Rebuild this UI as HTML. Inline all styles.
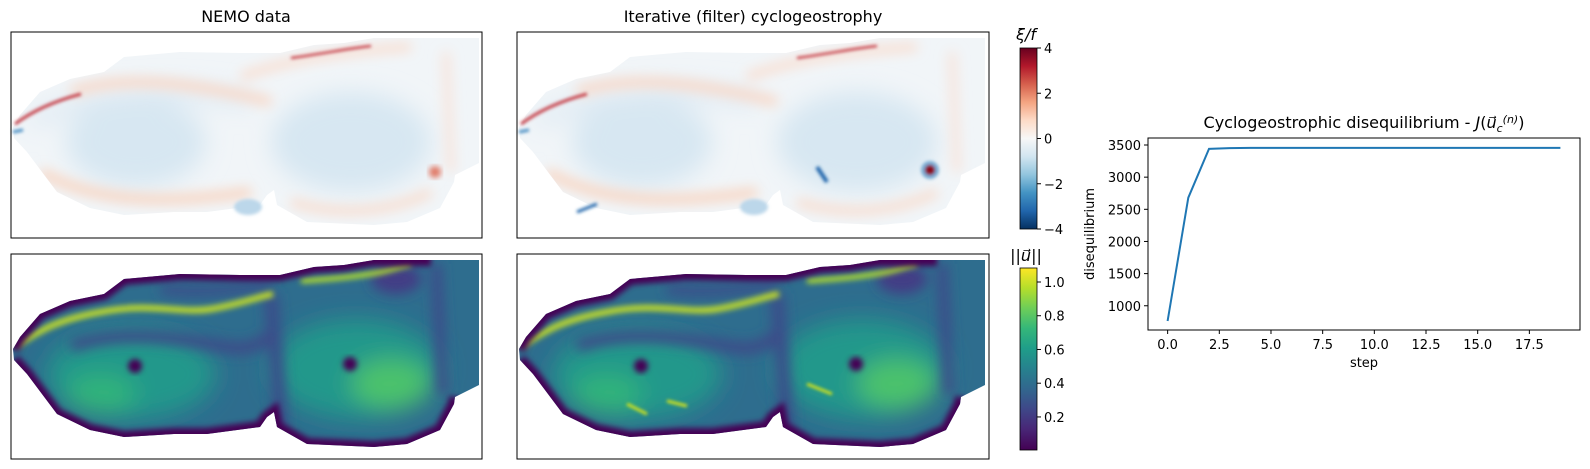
<!DOCTYPE html>
<html><head><meta charset="utf-8"><style>
html,body{margin:0;padding:0;background:#fff;}
svg{display:block;font-family:"DejaVu Sans","Liberation Sans",sans-serif;}
</style></head><body>
<svg id="fig" width="1590" height="469" viewBox="0 0 1590 469" xmlns="http://www.w3.org/2000/svg">
<defs>
<filter id="b3" x="-20%" y="-20%" width="140%" height="140%"><feGaussianBlur stdDeviation="3"/></filter>
<filter id="b6" x="-30%" y="-30%" width="160%" height="160%"><feGaussianBlur stdDeviation="6"/></filter>
<filter id="b12" x="-50%" y="-50%" width="200%" height="200%"><feGaussianBlur stdDeviation="12"/></filter>
<filter id="b2" x="-20%" y="-20%" width="140%" height="140%"><feGaussianBlur stdDeviation="1.5"/></filter>
<clipPath id="dom"><path d="M2,95 L9,83 L29,60 L59,47 L93,40 L113,25 L169,20 L229,21 L269,21 L303,13 L333,11 L363,6 L468,6 L468,131 L444,143 L443,150 L429,176 L396,190 L363,193 L296,190 L266,173 L263,158 L256,163 L249,173 L196,180 L163,180 L113,183 L79,176 L46,160 L16,120 L3,106 Z"/></clipPath>
<linearGradient id="rdbu" x1="0" y1="0" x2="0" y2="1">
<stop offset="0" stop-color="#67001f"/><stop offset="0.1" stop-color="#b2182b"/><stop offset="0.2" stop-color="#d6604d"/><stop offset="0.3" stop-color="#f4a582"/><stop offset="0.4" stop-color="#fddbc7"/><stop offset="0.5" stop-color="#f7f7f7"/><stop offset="0.6" stop-color="#d1e5f0"/><stop offset="0.7" stop-color="#92c5de"/><stop offset="0.8" stop-color="#4393c3"/><stop offset="0.9" stop-color="#2166ac"/><stop offset="1" stop-color="#053061"/>
</linearGradient>
<linearGradient id="vir" x1="0" y1="0" x2="0" y2="1">
<stop offset="0" stop-color="#fde725"/><stop offset="0.11" stop-color="#b5de2b"/><stop offset="0.22" stop-color="#6ece58"/><stop offset="0.33" stop-color="#35b779"/><stop offset="0.44" stop-color="#1f9e89"/><stop offset="0.55" stop-color="#26828e"/><stop offset="0.66" stop-color="#31688e"/><stop offset="0.77" stop-color="#3e4989"/><stop offset="0.88" stop-color="#482878"/><stop offset="1" stop-color="#440154"/>
</linearGradient>
<g id="vortField">
<g clip-path="url(#dom)">
<rect x="0" y="0" width="472" height="206" fill="#f1f5f8"/>
<g filter="url(#b12)">
<ellipse cx="125" cy="110" rx="70" ry="45" fill="#d7e7f2"/>
<ellipse cx="340" cy="110" rx="80" ry="50" fill="#d7e7f2"/>
<path d="M20,90 C80,60 160,55 240,70" stroke="#dde9f3" stroke-width="14" fill="none"/>
</g>
<g filter="url(#b6)">
<path d="M60,60 C120,40 200,55 260,70" stroke="#f8d8c8" stroke-width="10" fill="none"/>
<path d="M30,140 C90,175 170,170 240,160" stroke="#f8d5c2" stroke-width="10" fill="none"/>
<path d="M280,170 C330,185 380,180 420,160" stroke="#f8dacb" stroke-width="8" fill="none"/>
<path d="M230,45 C270,30 320,20 400,15" stroke="#f9dccd" stroke-width="8" fill="none"/>
<path d="M435,20 L440,140" stroke="#f7e3da" stroke-width="8" fill="none"/>
</g>
</g>
<g filter="url(#b2)">
<path d="M4,92 C20,80 40,70 70,62" stroke="#c6414a" stroke-width="3" fill="none"/>
<path d="M280,26 C310,22 340,16 360,14" stroke="#c6414a" stroke-width="2.5" fill="none"/>
<ellipse cx="237" cy="175" rx="14" ry="8" fill="#bcd7ea"/>
<path d="M2,100 L12,98" stroke="#4a8fc4" stroke-width="3"/>
</g>
</g>
<g id="speedField">
<g clip-path="url(#dom)">
<rect x="0" y="0" width="472" height="206" fill="#2e6d8e"/>
<g filter="url(#b12)">
<ellipse cx="120" cy="120" rx="85" ry="45" fill="#23988b"/>
<ellipse cx="345" cy="115" rx="85" ry="50" fill="#23988b"/>
<ellipse cx="380" cy="130" rx="40" ry="25" fill="#4cc26c"/>
<ellipse cx="90" cy="140" rx="35" ry="20" fill="#33b47a"/>
</g>
<g filter="url(#b6)">
<path d="M60,92 C100,78 150,80 210,92 C240,98 250,90 262,78" stroke="#3e4b89" stroke-width="12" fill="none"/>
<path d="M260,40 L270,175" stroke="#3b4e8a" stroke-width="14" fill="none"/>
<path d="M425,10 L432,140" stroke="#3e4989" stroke-width="10" fill="none"/>
<path d="M150,35 C190,40 230,35 260,30" stroke="#3b4e8a" stroke-width="10" fill="none"/>
<ellipse cx="385" cy="25" rx="25" ry="15" fill="#433e85"/>
</g>
<g filter="url(#b3)">
<path d="M5,92 C30,75 50,65 90,58 C140,48 170,60 200,55 C230,50 250,42 262,40" stroke="#c6df27" stroke-width="6" fill="none"/>
<path d="M290,27 C320,25 350,22 370,18 C380,16 390,12 400,10" stroke="#b5de2b" stroke-width="5" fill="none"/>
</g>
<g fill="none" stroke="#440154" stroke-width="12" filter="url(#b3)">
<path d="M2,95 L9,83 L29,60 L59,47 L93,40 L113,25 L169,20 L229,21 L269,21 L303,13 L333,11 L363,6 L420,6 M444,143 L443,150 L429,176 L396,190 L363,193 L296,190 L266,173 L263,158 L256,163 L249,173 L196,180 L163,180 L113,183 L79,176 L46,160 L16,120 L3,106"/>
</g>
<g filter="url(#b3)">
<circle cx="124" cy="112" r="7" fill="#440154"/>
<circle cx="339" cy="110" r="7" fill="#440154"/>
</g>
</g>
</g>
</defs>

<text x="246" y="22" font-size="16" text-anchor="middle" fill="#000">NEMO data</text>
<g transform="translate(11,32)">
<use href="#vortField"/>
<g filter="url(#b3)"><circle cx="424" cy="140" r="6" fill="#e07a68"/></g>
<rect x="0" y="0" width="471" height="206" fill="none" stroke="#000" stroke-width="1"/>
</g>
<text x="753" y="22" font-size="16" text-anchor="middle" fill="#000">Iterative (filter) cyclogeostrophy</text>
<g transform="translate(517,32)">
<use href="#vortField"/>
<g filter="url(#b2)">
<circle cx="413" cy="138" r="9" fill="#4a8fc4" opacity="0.7"/>
<circle cx="413" cy="138" r="5" fill="#8b0a1f"/>
<path d="M300,135 L310,150" stroke="#2166ac" stroke-width="4"/>
<path d="M60,180 L80,172" stroke="#2166ac" stroke-width="3"/>
</g>
<rect x="0" y="0" width="472" height="206" fill="none" stroke="#000" stroke-width="1"/>
</g>
<g transform="translate(11,254)">
<use href="#speedField"/>
<rect x="0" y="0" width="471" height="205" fill="none" stroke="#000" stroke-width="1"/>
</g>
<g transform="translate(517,254)">
<use href="#speedField"/>
<g filter="url(#b2)">
<path d="M110,150 L130,160 M150,147 L170,152 M290,130 L315,140" stroke="#d0e11c" stroke-width="3"/>
</g>
<rect x="0" y="0" width="472" height="205" fill="none" stroke="#000" stroke-width="1"/>
</g>

<g>
<text x="1026" y="40" font-size="16" font-style="italic" text-anchor="middle">ξ/f</text>
<rect x="1020" y="48" width="17" height="181" fill="url(#rdbu)" stroke="#000" stroke-width="0.8"/>
<g id="cb1ticks" font-size="13"></g>
</g>
<g>
<text x="1026" y="261" font-size="16" text-anchor="middle"><tspan>||</tspan><tspan font-style="italic">u⃗</tspan><tspan>||</tspan></text>
<rect x="1020" y="268" width="17" height="182" fill="url(#vir)" stroke="#000" stroke-width="0.8"/>
<g id="cb2ticks" font-size="13"></g>
</g>

<g id="linechart">
<text x="1364" y="128" font-size="16" text-anchor="middle">Cyclogeostrophic disequilibrium - <tspan font-style="italic">J</tspan>(<tspan font-style="italic">u⃗</tspan><tspan font-size="11" font-style="italic" dy="4">c</tspan><tspan font-size="11" font-style="italic" dy="-9">(n)</tspan><tspan dy="5">)</tspan></text>
<g id="lc-ticks" font-size="13"></g>
<path id="lc-line" fill="none" stroke="#1f77b4" stroke-width="2"/>
<rect x="1148" y="138" width="432" height="192" fill="none" stroke="#000" stroke-width="1"/>
<text x="1364" y="367" font-size="13" text-anchor="middle">step</text>
<text transform="translate(1094,234) rotate(-90)" font-size="13" text-anchor="middle">disequilibrium</text>
</g>
</svg>
<script>
const steps = [0,1,2,3,4,5,6,7,8,9,10,11,12,13,14,15,16,17,18,19];
const disequilibrium = [763,2680,3440,3452,3455,3455,3455,3455,3455,3455,3455,3455,3455,3455,3455,3455,3455,3455,3455,3455];
const xTicks = [0,2.5,5,7.5,10,12.5,15,17.5];
const yTicks = [1000,1500,2000,2500,3000,3500];
const vortTicks = [4,2,0,-2,-4];
const speedTicks = [0.2,0.4,0.6,0.8,1.0];

const NS='http://www.w3.org/2000/svg';
const X0=1148,X1=1580,Y0=330,Y1=138;
const xMin=-0.95,xMax=19.95,yMin=623,yMax=3609;
function sx(v){return X0+(v-xMin)/(xMax-xMin)*(X1-X0);}
function sy(v){return Y0-(v-yMin)/(yMax-yMin)*(Y0-Y1);}
function mk(tag,attrs,parent){const e=document.createElementNS(NS,tag);for(const k in attrs)e.setAttribute(k,attrs[k]);parent.appendChild(e);return e;}
const tg=document.getElementById('lc-ticks');
xTicks.forEach(t=>{
  const l=mk('line',{x1:sx(t),x2:sx(t),y1:Y0,y2:Y0+4,stroke:'#000'},tg);
  
  
  const tx=mk('text',{x:sx(t),y:Y0+19,'text-anchor':'middle'},tg);
  tx.textContent=t.toFixed(1);
  
  
});
yTicks.forEach(t=>{
  const l=mk('line',{x1:X0-4,x2:X0,y1:sy(t),y2:sy(t),stroke:'#000'},tg);
  
  
  const tx=mk('text',{x:X0-7,y:sy(t)+5,'text-anchor':'end'},tg);
  tx.textContent=String(t);
  
  
});
document.getElementById('lc-line').setAttribute('d',steps.map((s,i)=>(i?'L':'M')+sx(s).toFixed(1)+','+sy(disequilibrium[i]).toFixed(1)).join(' '));

const c1=document.getElementById('cb1ticks');
vortTicks.forEach(t=>{
  const y=48+(4-t)/8*181;
  const l=mk('line',{x1:1037,x2:1041,y1:y,y2:y,stroke:'#000'},c1);
  
  
  const tx=mk('text',{x:1044,y:y+5},c1);
  tx.textContent=t<0?'\u2212'+Math.abs(t):String(t);
  
  
});
const c2=document.getElementById('cb2ticks');
const sMin=0.004,sMax=1.083;
speedTicks.forEach(t=>{
  const y=450-(t-sMin)/(sMax-sMin)*182;
  const l=mk('line',{x1:1037,x2:1041,y1:y,y2:y,stroke:'#000'},c2);
  
  
  const tx=mk('text',{x:1044,y:y+5},c2);
  tx.textContent=t.toFixed(1);
  
  
});
</script>
</body></html>
